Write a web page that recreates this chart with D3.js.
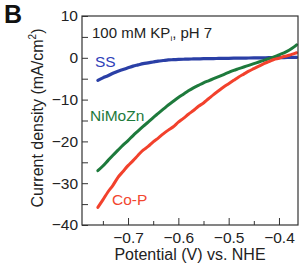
<!DOCTYPE html>
<html>
<head>
<meta charset="utf-8">
<script src="https://cdn.jsdelivr.net/npm/d3@7"></script>
<style>
  html, body { margin: 0; padding: 0; background: #fff; }
  svg { display: block; font-family: "Liberation Sans", Arial, sans-serif; }
</style>
</head>
<body>
<div id="chart"></div>
<script>
// potential (V vs. NHE), shared by all three sweeps
const potential = [-0.76, -0.75, -0.74, -0.73, -0.72, -0.71, -0.70, -0.69, -0.68, -0.67,
                   -0.66, -0.65, -0.64, -0.63, -0.62, -0.61, -0.60, -0.59, -0.58, -0.57,
                   -0.56, -0.55, -0.54, -0.53, -0.52, -0.51, -0.50, -0.49, -0.48, -0.47,
                   -0.46, -0.45, -0.44, -0.43, -0.42, -0.41, -0.40, -0.39, -0.38, -0.37, -0.365];

// current density (mA/cm2)
const ss = [-5.4, -4.8, -4.3, -3.7, -3.2, -2.8, -2.4, -2.0, -1.7, -1.4,
            -1.2, -1.0, -0.8, -0.65, -0.5, -0.45, -0.4, -0.35, -0.3, -0.28,
            -0.25, -0.22, -0.2, -0.18, -0.16, -0.14, -0.12, -0.1, -0.08, -0.06,
            -0.05, -0.03, -0.02, 0, 0.02, 0.03, 0.05, 0.06, 0.08, 0.1, 0.1];
const nimozn = [-27.0, -25.9, -24.6, -23.3, -22.1, -20.9, -19.8, -18.6, -17.5, -16.4,
                -15.4, -14.3, -13.3, -12.3, -11.3, -10.4, -9.5, -8.7, -7.9, -7.2,
                -6.6, -6.0, -5.5, -5.0, -4.5, -4.0, -3.5, -3.0, -2.6, -2.2,
                -1.8, -1.4, -1.0, -0.6, -0.2, 0.2, 0.7, 1.2, 1.8, 2.6, 3.1];
const cop = [-35.8, -34.0, -32.1, -30.5, -28.6, -27.2, -25.8, -24.6, -23.3, -22.1,
             -21.2, -20.1, -19.2, -18.2, -17.3, -16.5, -15.4, -14.5, -13.5, -12.6,
             -11.6, -10.8, -9.8, -8.8, -7.9, -7.0, -6.2, -5.4, -4.6, -3.9,
             -3.2, -2.6, -2.0, -1.4, -0.9, -0.4, -0.1, 0.3, 0.6, 1.0, 1.2];

const xMajor = [-0.7, -0.6, -0.5, -0.4];
const xMinor = [-0.75, -0.65, -0.55, -0.45];
const yTicks = [10, 5, 0, -5, -10, -15, -20, -25, -30, -35, -40];

const series = [
  { name: "SS", values: ss, color: "#2a3fa6", width: 3.2 },
  { name: "NiMoZn", values: nimozn, color: "#1e7a3c", width: 3 },
  { name: "Co-P", values: cop, color: "#f2412c", width: 3 }
];

const width = 301, height = 264;
const x = d3.scaleLinear().domain([-0.7915, -0.3622]).range([82, 298]);
const y = d3.scaleLinear().domain([10, -40]).range([16, 225]);

const svg = d3.select("#chart").append("svg")
    .attr("width", width)
    .attr("height", height);

// curves, drawn first so the frame sits on top
const line = d3.line()
    .x((d, i) => x(potential[i]))
    .y(d => y(d))
    .curve(d3.curveMonotoneX);

svg.append("g")
  .selectAll("path")
  .data(series)
  .join("path")
    .attr("fill", "none")
    .attr("stroke", d => d.color)
    .attr("stroke-width", d => d.width)
    .attr("stroke-linecap", "round")
    .attr("stroke-linejoin", "round")
    .attr("d", d => line(d.values));

// y axis, ticks pointing inward
svg.append("g")
    .attr("transform", `translate(${x.range()[0]},0)`)
    .call(d3.axisLeft(y)
        .tickValues(yTicks)
        .tickSizeInner(-6)
        .tickSizeOuter(0)
        .tickPadding(4)
        .tickFormat(d => d % 10 === 0 ? d3.format("d")(d) : ""))
    .call(g => g.select(".domain").remove())
    .call(g => g.selectAll("line").attr("stroke", "#333"))
    .call(g => g.selectAll("text")
        .attr("font-size", 15.5)
        .attr("fill", "#222"));

// x axis: labelled majors and shorter minors
const xAxisG = svg.append("g")
    .attr("transform", `translate(0,${y.range()[1]})`);

xAxisG.append("g")
    .call(d3.axisBottom(x)
        .tickValues(xMajor)
        .tickSizeInner(-7)
        .tickSizeOuter(0)
        .tickPadding(7)
        .tickFormat(d3.format(".1f")))
    .call(g => g.select(".domain").remove())
    .call(g => g.selectAll("line").attr("stroke", "#333"))
    .call(g => g.selectAll("text")
        .attr("font-size", 15.5)
        .attr("fill", "#222"));

xAxisG.append("g")
    .call(d3.axisBottom(x)
        .tickValues(xMinor)
        .tickSizeInner(-4)
        .tickSizeOuter(0)
        .tickFormat(""))
    .call(g => g.select(".domain").remove())
    .call(g => g.selectAll("line").attr("stroke", "#333"));

// frame
svg.append("rect")
    .attr("x", x.range()[0])
    .attr("y", y.range()[0])
    .attr("width", x.range()[1] - x.range()[0])
    .attr("height", y.range()[1] - y.range()[0])
    .attr("fill", "none")
    .attr("stroke", "#333")
    .attr("stroke-width", 1.2);

// axis titles
svg.append("text")
    .attr("x", 190)
    .attr("y", 260)
    .attr("text-anchor", "middle")
    .attr("font-size", 16)
    .attr("fill", "#222")
    .text("Potential (V) vs. NHE");

const yTitle = svg.append("text")
    .attr("transform", "translate(43,118) rotate(-90)")
    .attr("text-anchor", "middle")
    .attr("font-size", 16)
    .attr("fill", "#222");
yTitle.append("tspan").text("Current density (mA/cm");
yTitle.append("tspan").attr("font-size", 10).attr("dy", -7).text("2");
yTitle.append("tspan").attr("dy", 7).text(")");

// panel letter
svg.append("text")
    .attr("x", 4)
    .attr("y", 23)
    .attr("font-size", 25)
    .attr("font-weight", "bold")
    .attr("fill", "#111")
    .text("B");

// condition note
const note = svg.append("text")
    .attr("x", 92)
    .attr("y", 38)
    .attr("font-size", 15)
    .attr("fill", "#222");
note.append("tspan").text("100 mM KP");
note.append("tspan").attr("font-size", 8).attr("dy", 3).text("i");
note.append("tspan").attr("dy", -3).text(", pH 7");

// series labels
const labels = [
  { text: "SS", x: 95, y: 67, color: "#2e40b8" },
  { text: "NiMoZn", x: 90, y: 121, color: "#1e7a3c" },
  { text: "Co-P", x: 112, y: 205, color: "#f2472f" }
];
svg.append("g")
  .selectAll("text")
  .data(labels)
  .join("text")
    .attr("x", d => d.x)
    .attr("y", d => d.y)
    .attr("font-size", 15.5)
    .attr("fill", d => d.color)
    .text(d => d.text);
</script>
</body>
</html>
